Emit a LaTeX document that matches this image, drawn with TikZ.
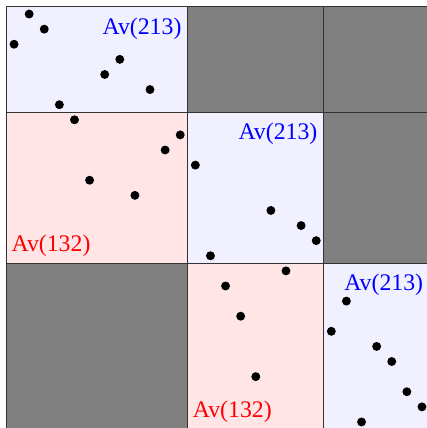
\documentclass[tikz,border=0pt]{standalone}
\usepackage{fontspec}
\setmainfont{Liberation Serif}
\definecolor{cellblue}{RGB}{240,240,255}
\definecolor{cellred}{RGB}{255,229,229}
\begin{document}
\begin{tikzpicture}[
    x=0.25cm, y=0.25cm,
    cell/.style={draw=black!80, line width=0.5pt},
    blocked/.style={cell, fill=black!50},
    dot/.style={circle, fill=black, inner sep=0pt, minimum size=4.2pt},
    lbltop/.style={anchor=north east, inner xsep=2.8pt, inner ysep=5pt, text=blue, font=\fontsize{11.2}{13}\selectfont},
    lblbot/.style={anchor=south west, inner xsep=2.2pt, inner ysep=3pt, text=red, font=\fontsize{11.2}{13}\selectfont}
]
\useasboundingbox (0.07,0.6) rectangle (28.33,28.93);

% Cells
\draw[cell, fill=cellblue] (0.5,21.5) rectangle (12.5,28.5);
\draw[blocked]             (12.5,21.5) rectangle (21.5,28.5);
\draw[blocked]             (21.5,21.5) rectangle (28.5,28.5);

\draw[cell, fill=cellred]  (0.5,11.5) rectangle (12.5,21.5);
\draw[cell, fill=cellblue] (12.5,11.5) rectangle (21.5,21.5);
\draw[blocked]             (21.5,11.5) rectangle (28.5,21.5);

\draw[blocked]             (0.5,0.5) rectangle (12.5,11.5);
\draw[cell, fill=cellred]  (12.5,0.5) rectangle (21.5,11.5);
\draw[cell, fill=cellblue] (21.5,0.5) rectangle (28.5,11.5);

% Labels
\node[lbltop] (av_a) at (12.5,28.5) {Av(213)};
\node[lbltop] (av_b) at (21.5,21.5) {Av(213)};
\node[lbltop] (av_c) at (28.5,11.5) {Av(213)};
\node[lblbot] (av_d) at (0.5,11.5)  {Av(132)};
\node[lblbot] (av_e) at (12.5,0.5)  {Av(132)};

% Points
\foreach \px/\py [count=\k] in {2/28, 3/27, 1/26, 8/25, 7/24, 10/23, 4/22,
    5/21, 12/20, 11/19, 13/18, 6/17, 9/16, 18/15, 20/14, 21/13, 14/12,
    19/11, 15/10, 23/9, 16/8, 22/7, 25/6, 26/5, 17/4, 27/3, 28/2, 24/1}
    \node[dot] (p\k) at (\px,\py) {};

\end{tikzpicture}
\end{document}
